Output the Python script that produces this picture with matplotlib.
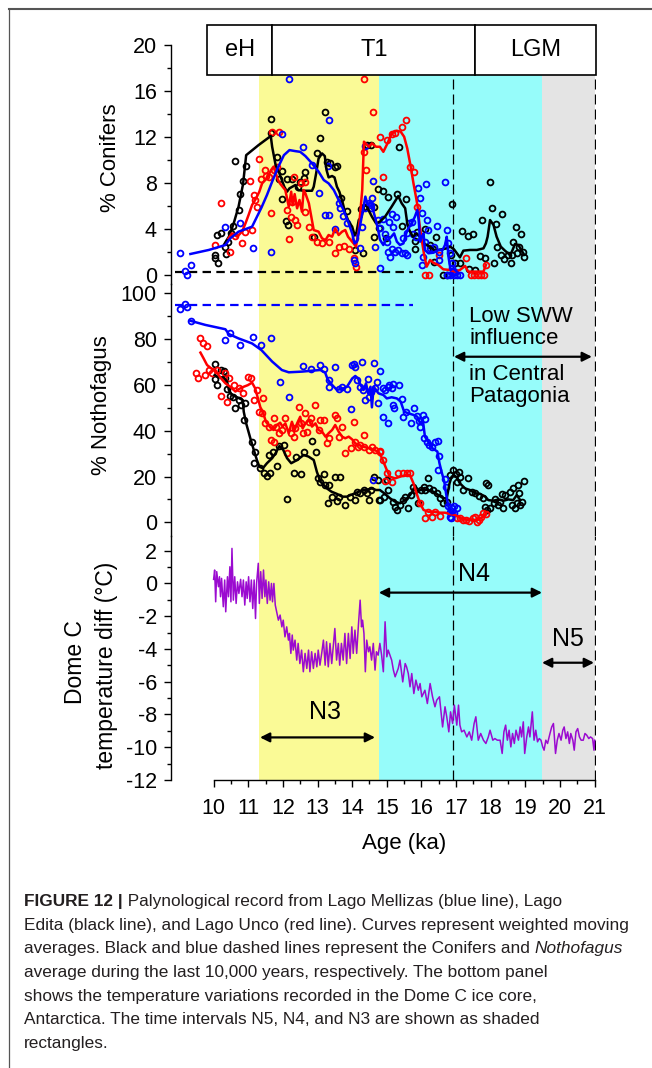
import matplotlib
matplotlib.use("Agg")
import matplotlib.pyplot as plt
from matplotlib.patches import Rectangle
from matplotlib.lines import Line2D
from matplotlib.ticker import FixedLocator

plt.rcParams['font.family'] = ['Liberation Sans', 'DejaVu Sans']
plt.rcParams['axes.unicode_minus'] = False

# ------------------------------------------------------------------ data
# % Conifers -------------------------------------------------------------
EDITA_CON_PTS = [
    (10.05, 1.76), (10.05, 1.47), (10.12, 1.04), (10.10, 3.50), (10.22, 3.70), (10.36, 1.82),
    (10.34, 2.49), (10.42, 2.92), (10.51, 3.64), (10.56, 4.28), (10.63, 9.89), (10.72, 5.67),
    (10.75, 7.03), (10.85, 8.16), (10.94, 9.49), (11.65, 13.54), (11.66, 12.33), (11.84, 10.30),
    (11.97, 9.05), (11.90, 8.39), (12.12, 8.33), (11.96, 6.59), (12.10, 4.71), (12.14, 4.40),
    (12.26, 8.39), (12.44, 7.69), (12.49, 8.13), (12.63, 8.97), (12.62, 8.42), (12.89, 3.35),
    (12.98, 10.59), (13.06, 11.95), (13.21, 14.14), (13.26, 9.86), (13.37, 9.77), (13.49, 9.37),
    (13.57, 9.49), (13.69, 6.71), (13.84, 5.58), (14.07, 2.20), (14.30, 1.91), (14.25, 5.73),
    (14.35, 5.90), (14.43, 11.28), (14.55, 11.28), (14.62, 5.96), (14.75, 7.52), (14.62, 3.35),
    (14.77, 4.08), (14.88, 7.34), (15.04, 6.77), (15.36, 11.16), (15.30, 7.06), (15.55, 6.59),
    (15.43, 4.28), (14.99, 3.21), (15.81, 3.01), (15.81, 2.25), (15.86, 3.79), (16.10, 3.99),
    (16.25, 2.63), (16.34, 2.25), (16.36, 1.15), (16.41, 3.35), (16.63, 0.03), (16.73, 0.03),
    (16.89, 6.19), (16.84, 1.76), (16.97, 1.10), (17.11, 1.10), (17.16, 3.87), (17.34, 3.41),
    (17.48, 3.58), (17.36, 0.52), (17.55, 0.46), (17.69, 1.70), (17.74, 4.80), (17.84, 1.53),
    (17.98, 8.07), (18.03, 5.82), (18.10, 1.04), (18.15, 4.42), (18.19, 2.49), (18.33, 5.29),
    (18.29, 1.76), (18.38, 1.41), (18.49, 1.76), (18.59, 1.10), (18.62, 1.76), (18.65, 2.92),
    (18.72, 4.22), (18.77, 1.91), (18.83, 2.49), (18.87, 3.58), (18.92, 1.99), (18.97, 1.62),
]
EDITA_CON_LINE = [
    (10.31, 2.71), (10.44, 3.35), (10.58, 4.51), (10.72, 5.96), (10.85, 7.92), (10.94, 10.43),
    (11.30, 11.31), (11.65, 12.09), (11.69, 11.16), (11.79, 9.57), (11.90, 8.85), (12.04, 7.69),
    (12.12, 7.26), (12.19, 7.55), (12.36, 7.84), (12.44, 7.40), (12.60, 7.34), (12.84, 7.34),
    (12.89, 7.69), (12.96, 8.85), (13.03, 10.14), (13.13, 10.58), (13.21, 10.35), (13.26, 9.14),
    (13.32, 8.50), (13.42, 8.62), (13.49, 8.50), (13.56, 7.69), (13.63, 7.26), (13.73, 6.25),
    (13.80, 5.38), (13.90, 4.66), (14.00, 4.22), (14.07, 3.50), (14.12, 3.65), (14.19, 4.80),
    (14.27, 5.09), (14.33, 5.96), (14.41, 6.10), (14.48, 5.61), (14.57, 5.09), (14.69, 4.51),
    (14.80, 4.66), (14.95, 5.09), (15.14, 5.96), (15.33, 6.88), (15.43, 6.25), (15.53, 5.82),
    (15.59, 4.51), (15.65, 3.93), (15.75, 3.35), (15.86, 3.64), (15.96, 3.35), (16.06, 2.77),
    (16.25, 2.49), (16.39, 2.14), (16.58, 2.25), (16.73, 2.34), (16.83, 2.49), (16.94, 2.25),
    (17.11, 1.56), (17.21, 2.14), (17.40, 2.20), (17.60, 2.20), (17.79, 2.34), (17.86, 2.77),
    (17.91, 3.35), (17.98, 4.80), (18.08, 4.37), (18.17, 3.35), (18.29, 2.49), (18.41, 2.14),
    (18.56, 1.76), (18.63, 2.20), (18.70, 2.72), (18.80, 2.63), (18.87, 2.25), (18.94, 1.91),
]
UNCO_CON_PTS = [
    (10.21, 6.31), (10.05, 2.63), (10.48, 1.99), (10.61, 3.41), (10.82, 2.77), (10.90, 3.79),
    (11.11, 3.93), (11.04, 8.22), (11.16, 6.97), (11.20, 6.54), (11.25, 5.90), (11.32, 10.07),
    (11.38, 8.33), (11.47, 9.14), (11.51, 8.62), (11.61, 8.50), (11.66, 5.38), (11.69, 12.47),
    (11.73, 9.14), (11.88, 12.47), (11.83, 9.37), (12.17, 3.12), (12.12, 5.67), (12.22, 5.09),
    (12.26, 6.39), (12.31, 8.56), (12.36, 4.80), (12.41, 4.37), (12.51, 7.98), (12.65, 8.12),
    (12.63, 5.52), (12.75, 4.22), (12.84, 3.35), (12.98, 2.92), (13.13, 2.77), (13.32, 2.92),
    (13.51, 1.96), (13.61, 2.49), (13.75, 2.54), (13.90, 2.25), (14.04, 1.47), (14.11, 0.75),
    (14.33, 10.72), (14.41, 9.14), (14.60, 14.14), (14.81, 12.03), (14.35, 17.00), (15.00, 11.74),
    (15.14, 12.26), (15.24, 12.38), (15.45, 12.84), (15.55, 13.48), (14.90, 8.50), (15.67, 9.37),
    (15.79, 8.99), (15.88, 5.90), (16.52, 1.76), (17.29, 1.53), (17.86, 0.89), (16.10, 0.03),
    (16.23, 0.03), (17.42, 0.00), (17.52, 0.00), (17.62, 0.00), (17.72, 0.00), (17.80, 0.00),
]
UNCO_CON_LINE = [
    (10.43, 3.21), (10.53, 3.64), (10.68, 3.35), (10.82, 3.79), (10.92, 4.51), (11.01, 5.24),
    (11.11, 6.10), (11.20, 6.54), (11.32, 7.26), (11.40, 7.98), (11.49, 8.27), (11.59, 8.71),
    (11.66, 9.14), (11.73, 9.43), (11.86, 8.27), (11.93, 7.92), (12.07, 7.40), (12.17, 5.96),
    (12.24, 7.26), (12.28, 6.10), (12.34, 7.05), (12.41, 5.82), (12.48, 6.54), (12.55, 5.52),
    (12.60, 7.40), (12.65, 7.11), (12.75, 6.25), (12.82, 5.09), (12.89, 3.93), (13.03, 3.79),
    (13.13, 3.21), (13.23, 3.06), (13.32, 3.50), (13.42, 3.35), (13.51, 4.08), (13.61, 3.50),
    (13.71, 3.79), (13.80, 3.93), (13.88, 3.35), (14.04, 2.77), (14.11, 2.49), (14.19, 3.93),
    (14.29, 7.40), (14.34, 11.60), (14.48, 11.16), (14.57, 11.46), (14.69, 11.16), (14.80, 11.16),
    (14.90, 10.72), (15.02, 11.46), (15.14, 12.32), (15.29, 12.55), (15.40, 12.47), (15.50, 12.03),
    (15.59, 11.02), (15.69, 9.43), (15.77, 7.98), (15.84, 6.83), (15.89, 5.96), (15.94, 4.51),
    (16.01, 3.06), (16.07, 1.91), (16.15, 0.75), (16.25, 1.33), (16.34, 1.10), (16.49, 0.89),
    (16.63, 0.52), (16.83, 0.46), (16.97, 0.32), (17.11, 0.46), (17.26, 0.81), (17.35, 0.32),
    (17.79, 0.32), (17.86, 0.89),
]
MELL_CON_PTS = [
    (9.04, 1.91), (9.18, 0.40), (9.23, 0.00), (9.36, 0.89), (10.34, 4.22), (10.77, 4.51),
    (11.14, 2.40), (11.67, 2.05), (11.96, 12.30), (12.19, 17.00), (12.57, 11.10), (12.84, 9.57),
    (13.03, 7.17), (13.21, 5.24), (13.32, 5.24), (13.29, 9.49), (13.34, 13.48), (13.49, 3.99),
    (13.61, 6.25), (13.66, 5.81), (13.73, 5.15), (13.85, 4.57), (14.07, 3.21), (14.04, 1.33),
    (14.07, 1.04), (14.24, 2.34), (14.29, 4.22), (14.36, 11.22), (14.38, 5.81), (14.48, 6.31),
    (14.53, 5.81), (14.59, 8.18), (14.57, 6.68), (14.54, 6.10), (14.65, 2.49), (14.75, 4.80),
    (14.81, 0.66), (14.80, 4.08), (14.90, 4.86), (14.95, 3.56), (15.07, 4.66), (15.14, 5.32),
    (15.19, 4.16), (15.26, 5.03), (15.00, 2.92), (15.04, 2.05), (15.09, 1.62), (15.14, 2.25),
    (15.24, 2.05), (15.33, 2.20), (15.43, 1.91), (15.53, 1.91), (15.59, 1.76), (15.48, 3.21),
    (15.57, 3.64), (15.65, 4.51), (15.72, 4.66), (15.77, 3.56), (15.84, 3.35), (15.91, 7.55),
    (15.96, 6.74), (16.13, 7.90), (16.01, 5.38), (16.15, 4.80), (16.18, 3.93), (16.10, 2.92),
    (16.04, 1.62), (16.01, 0.89), (16.25, 2.34), (16.36, 2.49), (16.44, 4.31), (16.52, 2.05),
    (16.52, 1.33), (16.68, 8.13), (16.73, 3.93), (16.78, 2.77), (16.83, 1.91), (16.87, 1.04),
    (16.87, 0.60), (16.73, 0.03), (16.83, 0.03), (16.94, 0.03), (17.04, 0.03), (17.11, 0.03),
    (16.90, 0.32), (16.97, 0.32),
]
MELL_CON_LINE = [
    (9.33, 1.85), (9.86, 2.20), (10.34, 2.63), (10.48, 3.21), (10.72, 3.79), (11.11, 4.22),
    (11.38, 5.87), (11.54, 6.97), (11.69, 8.13), (11.86, 9.37), (12.03, 10.43), (12.19, 10.87),
    (12.36, 10.78), (12.50, 10.72), (12.65, 10.35), (12.84, 9.72), (13.03, 9.00), (13.18, 8.27),
    (13.32, 7.98), (13.47, 7.40), (13.61, 6.54), (13.75, 5.67), (13.90, 4.51), (14.00, 3.64),
    (14.07, 2.77), (14.14, 2.92), (14.24, 4.51), (14.33, 5.96), (14.38, 6.83), (14.45, 6.10),
    (14.53, 6.39), (14.59, 5.81), (14.67, 4.94), (14.75, 3.93), (14.80, 3.10), (14.90, 2.63),
    (15.00, 3.35), (15.09, 3.21), (15.21, 3.64), (15.29, 2.92), (15.38, 2.63), (15.48, 2.77),
    (15.56, 3.64), (15.62, 4.08), (15.72, 4.51), (15.81, 5.09), (15.88, 5.67), (15.92, 4.80),
    (15.96, 2.92), (16.01, 3.35), (16.06, 3.64), (16.10, 2.20), (16.20, 1.91), (16.34, 1.96),
    (16.49, 2.20), (16.61, 2.20), (16.68, 2.63), (16.73, 3.35), (16.78, 1.62), (16.84, 0.46),
    (16.92, 0.60), (17.02, 0.32),
]
CONIFER_HOLOCENE_MEAN = 0.29
CONIFER_MEAN_SPAN = (8.90, 15.77)

# % Nothofagus -----------------------------------------------------------
EDITA_NOT_PTS = [
    (10.05, 69.1), (10.22, 66.5), (10.29, 66.1), (10.03, 62.4), (10.10, 59.9), (10.32, 62.8),
    (10.39, 58.1), (10.46, 55.2), (10.55, 54.9), (10.63, 49.8), (10.72, 53.4), (10.80, 51.2),
    (10.92, 52.3), (10.87, 44.7), (11.11, 35.2), (11.20, 30.6), (11.16, 25.8), (11.35, 23.9),
    (11.45, 21.4), (11.54, 20.2), (11.64, 21.7), (11.61, 29.4), (11.72, 30.9), (11.84, 24.8),
    (11.90, 33.3), (12.03, 33.7), (12.12, 10.2), (12.31, 21.4), (12.51, 20.9), (12.38, 28.7),
    (12.60, 30.5), (12.84, 35.6), (12.96, 30.5), (13.00, 19.2), (13.08, 17.8), (13.18, 20.9),
    (13.23, 16.3), (13.32, 16.3), (13.49, 19.6), (13.66, 19.6), (13.31, 8.6), (13.42, 10.9),
    (13.56, 9.4), (13.61, 11.2), (13.80, 7.6), (13.95, 11.2), (14.07, 9.8), (14.14, 13.4),
    (14.24, 12.7), (14.33, 14.1), (14.43, 12.7), (14.48, 9.8), (14.55, 14.1), (14.62, 19.9),
    (14.75, 18.5), (14.77, 9.8), (14.80, 9.7), (14.92, 11.2), (15.00, 18.5), (15.04, 14.1),
    (15.17, 9.0), (15.24, 6.8), (15.30, 5.4), (15.38, 7.6), (15.46, 9.7), (15.53, 11.2),
    (15.62, 6.1), (15.69, 11.9), (15.77, 15.6), (15.81, 14.1), (15.91, 8.3), (15.98, 14.1),
    (16.06, 15.6), (16.10, 14.1), (16.20, 19.2), (16.23, 14.8), (16.34, 14.1), (16.44, 12.7),
    (16.54, 10.5), (16.63, 8.3), (16.73, 9.0), (16.83, 20.6), (16.92, 22.8), (17.00, 21.1),
    (17.07, 22.1), (17.11, 19.9), (17.04, 17.7), (17.21, 14.1), (17.35, 19.2), (17.45, 13.4),
    (17.55, 12.7), (17.67, 11.5), (17.79, 10.5), (17.86, 17.0), (17.93, 16.3), (17.84, 6.8),
    (17.88, 5.4), (17.98, 6.1), (18.08, 8.3), (18.12, 10.0), (18.22, 7.6), (18.27, 9.0),
    (18.36, 6.1), (18.32, 12.4), (18.41, 11.9), (18.56, 13.4), (18.61, 7.6), (18.65, 14.8),
    (18.70, 6.1), (18.75, 8.3), (18.80, 16.3), (18.83, 12.7), (18.89, 9.0), (18.96, 18.2),
    (18.85, 7.6),
]
EDITA_NOT_LINE = [
    (10.03, 64.3), (10.15, 63.3), (10.29, 63.3), (10.39, 61.4), (10.44, 57.8), (10.53, 55.6),
    (10.68, 54.6), (10.84, 53.4), (10.87, 48.3), (10.94, 43.2), (11.06, 36.7), (11.16, 31.6),
    (11.25, 27.2), (11.32, 24.3), (11.42, 23.6), (11.54, 25.8), (11.69, 28.0), (11.79, 30.2),
    (11.90, 33.3), (12.01, 31.6), (12.12, 28.0), (12.24, 25.8), (12.41, 27.2), (12.60, 29.4),
    (12.74, 28.7), (12.89, 27.2), (12.98, 22.1), (13.08, 17.8), (13.18, 16.3), (13.27, 14.8),
    (13.40, 13.4), (13.56, 12.4), (13.71, 11.2), (13.85, 11.2), (13.95, 11.9), (14.04, 12.4),
    (14.19, 13.4), (14.33, 14.1), (14.48, 14.4), (14.57, 14.8), (14.69, 14.1), (14.80, 14.1),
    (14.95, 12.4), (15.09, 10.5), (15.24, 9.0), (15.38, 8.3), (15.53, 9.7), (15.67, 11.9),
    (15.77, 14.1), (15.91, 13.8), (16.06, 14.4), (16.20, 14.1), (16.34, 13.4), (16.49, 11.9),
    (16.63, 10.5), (16.73, 10.5), (16.81, 17.0), (16.87, 19.9), (16.94, 20.6), (17.02, 19.6),
    (17.11, 17.0), (17.26, 14.8), (17.40, 14.1), (17.55, 12.7), (17.69, 12.4), (17.84, 11.2),
    (17.93, 9.7), (18.08, 9.4), (18.22, 10.0), (18.36, 9.4), (18.51, 10.0), (18.65, 9.7),
    (18.75, 11.9), (18.85, 9.7),
]
UNCO_NOT_PTS = [
    (9.62, 80.3), (9.68, 78.5), (9.81, 76.8), (9.49, 65.4), (9.55, 62.8), (9.74, 64.3),
    (9.86, 66.5), (9.95, 65.4), (10.10, 66.5), (10.34, 65.0), (10.22, 55.2), (10.39, 52.7),
    (10.44, 62.8), (10.59, 59.9), (10.72, 58.5), (10.84, 56.3), (10.99, 63.3), (11.09, 62.8),
    (11.25, 57.8), (11.16, 53.4), (11.42, 54.1), (11.32, 48.3), (11.40, 47.9), (11.49, 43.2),
    (11.59, 41.8), (11.73, 45.4), (11.79, 41.8), (11.67, 35.9), (11.73, 35.2), (11.88, 38.9),
    (11.97, 40.3), (12.07, 45.4), (12.12, 30.2), (12.22, 38.9), (12.31, 37.4), (12.36, 41.0),
    (12.46, 50.5), (12.51, 43.2), (12.57, 38.9), (12.65, 47.6), (12.75, 43.9), (12.70, 39.6),
    (12.82, 45.4), (12.92, 51.2), (13.03, 40.3), (13.08, 44.7), (13.20, 44.7), (13.27, 34.5),
    (13.32, 36.7), (13.49, 46.9), (13.56, 45.4), (13.61, 37.4), (13.71, 41.8), (13.80, 30.2),
    (13.97, 32.3), (14.04, 44.0), (14.07, 35.2), (14.17, 33.0), (14.24, 33.7), (14.33, 38.1),
    (14.33, 33.0), (14.48, 31.6), (14.57, 33.0), (14.67, 31.6), (14.79, 30.5), (14.80, 31.3),
    (14.90, 27.2), (14.95, 18.2), (15.00, 21.4), (15.14, 17.7), (15.33, 21.4), (15.48, 21.4),
    (15.57, 21.4), (15.67, 21.4), (15.96, 8.3), (16.10, 1.7), (16.20, 4.6), (16.30, 2.5),
    (16.39, 4.6), (16.54, 2.9), (17.02, 1.7), (17.11, 1.7), (17.21, 1.0), (17.29, 1.0),
    (17.38, 0.7), (17.48, 1.7), (17.55, 2.5), (17.60, 0.3), (17.67, 1.0), (17.71, 2.5),
    (17.79, 3.9), (17.86, 3.6),
]
UNCO_NOT_LINE = [
    (9.62, 74.1), (9.71, 71.6), (9.81, 68.7), (9.93, 67.2), (10.05, 66.5), (10.19, 63.3),
    (10.34, 60.7), (10.48, 59.2), (10.63, 57.1), (10.72, 58.1), (10.87, 59.2), (10.99, 59.9),
    (11.11, 61.0), (11.20, 58.5), (11.28, 54.1), (11.35, 50.2), (11.42, 48.3), (11.51, 43.9),
    (11.64, 41.4), (11.73, 40.3), (11.83, 42.5), (11.92, 43.5), (11.99, 41.8), (12.07, 43.2),
    (12.17, 38.9), (12.26, 43.9), (12.34, 40.3), (12.41, 43.2), (12.50, 46.1), (12.57, 41.0),
    (12.65, 43.2), (12.75, 44.7), (12.84, 41.8), (12.94, 43.2), (13.03, 40.3), (13.13, 39.6),
    (13.23, 37.4), (13.32, 38.9), (13.42, 40.3), (13.51, 42.5), (13.61, 39.6), (13.71, 37.4),
    (13.80, 36.7), (13.90, 37.4), (14.00, 36.2), (14.09, 34.5), (14.19, 33.7), (14.33, 33.0),
    (14.48, 32.3), (14.62, 31.6), (14.76, 30.9), (14.86, 28.0), (14.96, 24.3), (15.00, 22.8),
    (15.09, 19.9), (15.24, 19.2), (15.38, 19.9), (15.53, 20.6), (15.67, 20.6), (15.77, 17.0),
    (15.86, 12.6), (15.96, 8.3), (16.06, 5.4), (16.20, 4.6), (16.34, 4.6), (16.54, 4.2),
    (16.68, 4.2), (16.83, 3.6), (16.97, 3.2), (17.07, 2.2), (17.21, 1.3), (17.35, 1.0),
    (17.50, 1.0), (17.64, 1.3), (17.79, 2.5), (17.86, 3.6),
]
MELL_NOT_PTS = [
    (9.04, 93.0), (9.16, 95.3), (9.23, 93.8), (9.36, 88.0), (10.32, 79.6), (10.46, 82.5),
    (10.77, 77.4), (11.14, 81.1), (11.38, 77.4), (11.66, 80.3), (11.93, 61.1), (12.19, 54.6),
    (12.57, 68.2), (12.82, 66.8), (13.06, 68.7), (13.19, 66.8), (13.49, 67.6), (13.32, 62.1),
    (13.34, 59.3), (13.61, 58.1), (13.70, 59.3), (13.85, 58.1), (13.97, 49.3), (14.04, 69.1),
    (14.09, 67.6), (14.00, 68.7), (14.29, 70.1), (14.14, 62.1), (14.24, 59.3), (14.32, 57.8),
    (14.46, 62.4), (14.38, 53.4), (14.48, 54.9), (14.54, 56.8), (14.62, 69.4), (14.67, 58.5),
    (14.72, 61.4), (14.75, 52.0), (14.81, 66.2), (14.88, 46.1), (14.59, 18.5), (15.02, 43.2),
    (14.90, 58.7), (14.95, 57.8), (15.02, 59.2), (15.07, 59.9), (15.14, 58.5), (15.19, 60.2),
    (15.35, 59.9), (15.17, 51.2), (15.21, 49.8), (15.43, 53.7), (15.48, 46.1), (15.69, 43.2),
    (15.55, 48.3), (15.79, 49.8), (15.88, 46.4), (15.94, 44.2), (15.96, 41.8), (16.04, 46.9),
    (16.10, 44.9), (16.06, 36.7), (16.15, 35.2), (16.23, 33.7), (16.39, 35.2), (16.49, 35.6),
    (16.30, 33.0), (16.52, 28.9), (16.49, 22.8), (16.68, 18.7), (16.71, 15.5), (16.76, 7.1),
    (16.83, 4.6), (16.87, 6.1), (16.94, 7.1), (17.04, 6.1), (16.81, 2.4), (16.94, 4.2),
    (16.84, 1.7),
]
MELL_NOT_LINE = [
    (9.33, 88.0), (9.76, 86.2), (10.34, 84.3), (10.44, 82.2), (10.72, 80.3), (11.11, 78.1),
    (11.38, 75.2), (11.69, 70.2), (11.97, 66.5), (12.17, 65.5), (12.55, 65.8), (12.84, 66.2),
    (13.08, 66.5), (13.22, 65.4), (13.29, 62.5), (13.42, 60.0), (13.56, 57.8), (13.75, 58.5),
    (13.85, 59.2), (14.00, 62.8), (14.09, 63.9), (14.17, 62.8), (14.24, 60.0), (14.33, 57.8),
    (14.40, 60.7), (14.46, 56.3), (14.53, 59.2), (14.57, 50.2), (14.62, 59.2), (14.69, 57.8),
    (14.76, 56.3), (14.90, 55.6), (15.00, 54.1), (15.14, 54.6), (15.29, 54.1), (15.40, 52.7),
    (15.50, 48.3), (15.62, 47.6), (15.77, 46.9), (15.88, 46.1), (15.96, 43.2), (16.04, 44.7),
    (16.10, 37.4), (16.20, 35.2), (16.32, 32.3), (16.46, 30.9), (16.52, 25.8), (16.58, 22.1),
    (16.66, 17.7), (16.71, 12.6), (16.76, 8.3), (16.81, 4.6), (16.87, 3.9), (16.97, 4.2),
]
NOTHO_HOLOCENE_MEAN = 95.0
NOTHO_MEAN_SPAN = (8.90, 15.77)

# Dome C temperature difference (deg C) ---------------------------------
DOMEC_AGE = [
    10.00, 10.03, 10.06, 10.09, 10.14, 10.17, 10.20, 10.23, 10.28, 10.32, 10.35, 10.40,
    10.43, 10.47, 10.50, 10.53, 10.57, 10.61, 10.65, 10.69, 10.73, 10.78, 10.82, 10.86,
    10.90, 10.94, 10.97, 11.01, 11.05, 11.09, 11.13, 11.17, 11.21, 11.24, 11.29, 11.32,
    11.36, 11.40, 11.44, 11.48, 11.51, 11.55, 11.59, 11.63, 11.67, 11.70, 11.74, 11.78,
    11.82, 11.87, 11.92, 11.97, 12.01, 12.06, 12.11, 12.16, 12.19, 12.23, 12.27, 12.30,
    12.35, 12.40, 12.44, 12.49, 12.54, 12.59, 12.64, 12.69, 12.74, 12.78, 12.83, 12.88,
    12.93, 12.98, 13.02, 13.07, 13.12, 13.17, 13.22, 13.26, 13.31, 13.36, 13.41, 13.45,
    13.50, 13.55, 13.60, 13.64, 13.69, 13.74, 13.79, 13.84, 13.89, 13.94, 13.99, 14.03,
    14.08, 14.13, 14.18, 14.23, 14.27, 14.30, 14.34, 14.38, 14.42, 14.47, 14.51, 14.56,
    14.61, 14.66, 14.70, 14.75, 14.80, 14.85, 14.90, 14.95, 15.00, 15.04, 15.14, 15.19,
    15.24, 15.33, 15.38, 15.46, 15.53, 15.57, 15.62, 15.67, 15.72, 15.78, 15.84, 15.91,
    15.96, 16.01, 16.10, 16.17, 16.25, 16.32, 16.39, 16.44, 16.52, 16.55, 16.61, 16.68,
    16.73, 16.79, 16.84, 16.90, 16.95, 17.02, 17.07, 17.11, 17.16, 17.23, 17.31, 17.38,
    17.45, 17.52, 17.57, 17.64, 17.71, 17.79, 17.86, 17.93, 17.98, 18.06, 18.12, 18.19,
    18.27, 18.33, 18.38, 18.43, 18.48, 18.53, 18.58, 18.63, 18.68, 18.73, 18.80, 18.85,
    18.89, 18.94, 18.98, 19.04, 19.09, 19.13, 19.20, 19.25, 19.30, 19.35, 19.40, 19.45,
    19.50, 19.54, 19.59, 19.64, 19.71, 19.76, 19.81, 19.87, 19.92, 19.97, 20.03, 20.08,
    20.12, 20.17, 20.22, 20.27, 20.31, 20.37, 20.41, 20.46, 20.51, 20.56, 20.61, 20.67,
    20.72, 20.77, 20.83, 20.88, 20.94, 20.98, 21.00,
]
DOMEC_T = [
    0.25, 0.82, -1.12, 0.72, -0.20, 0.41, -0.81, 0.31, -1.42, 0.21, -1.73, 0.41,
    -0.81, 1.02, -1.12, 2.14, -1.02, 0.41, -1.22, 0.10, -0.61, 0.25, -0.81, 0.21,
    -1.32, 0.10, -0.91, 0.41, -1.12, 0.21, -1.53, 0.21, -2.14, 0.00, 1.23, -1.22,
    0.72, -0.91, 0.82, -0.81, 0.21, -1.22, 0.10, -1.02, 0.00, -1.12, 0.00, -1.32,
    -1.73, -2.24, -1.93, -2.65, -2.24, -3.26, -2.65, -3.46, -3.05, -4.27, -3.15, -4.07,
    -3.46, -4.68, -3.66, -4.89, -4.07, -5.39, -4.27, -5.19, -4.07, -5.39, -4.17, -5.19,
    -4.27, -5.09, -4.07, -4.99, -4.27, -3.46, -4.99, -3.56, -5.09, -3.66, -4.89, -3.97,
    -2.75, -4.68, -3.66, -4.99, -3.66, -4.68, -3.05, -4.89, -3.05, -4.58, -2.65, -4.27,
    -2.85, -4.27, -2.54, -1.02, -2.65, -2.24, -3.05, -5.39, -3.46, -4.17, -3.87, -4.68,
    -3.66, -5.29, -4.17, -4.38, -3.66, -4.38, -5.39, -2.34, -4.48, -4.07, -4.68, -5.29,
    -5.70, -5.19, -4.68, -6.01, -4.89, -5.09, -5.50, -6.31, -5.50, -6.72, -5.90, -6.52,
    -6.11, -6.92, -6.52, -7.33, -6.11, -6.92, -7.53, -7.13, -6.92, -7.53, -8.76, -7.53,
    -8.14, -9.06, -7.84, -8.55, -7.43, -8.65, -7.43, -8.65, -9.06, -8.96, -9.37, -9.06,
    -9.57, -8.55, -8.14, -9.57, -9.16, -9.57, -9.77, -9.37, -8.96, -9.57, -9.47, -9.57,
    -9.57, -10.38, -9.06, -8.65, -9.57, -8.96, -9.98, -9.16, -9.77, -8.96, -9.57, -8.76,
    -9.37, -8.45, -10.38, -9.37, -8.76, -9.37, -7.84, -9.57, -8.96, -9.67, -9.47, -9.57,
    -9.98, -10.18, -9.57, -9.77, -9.16, -8.76, -8.55, -10.38, -9.57, -9.16, -9.57, -8.96,
    -8.76, -9.47, -9.06, -9.77, -9.16, -9.57, -10.18, -9.06, -8.86, -9.37, -9.57, -9.57,
    -9.16, -9.26, -9.47, -9.37, -9.47, -10.18, -9.57,
]

# periods / intervals (ka)
STAGES = [("eH", 9.81, 11.70), ("T1", 11.70, 17.55), ("LGM", 17.55, 21.03)]
SHADES = [(11.31, 14.77, "#FAFA96"), (14.77, 19.48, "#96FCFA"), (19.48, 21.00, "#E4E4E4")]
DASHED_AGES = [16.90, 21.00]
N_INTERVALS = [("N3", 11.34, 14.66, -9.4, 13.22, -7.84),
               ("N4", 14.77, 19.48, -0.56, 17.52, 0.57),
               ("N5", 19.48, 20.98, -4.84, 20.24, -3.40)]
SWW_SPAN = (16.94, 20.92)

X_TICKS = list(range(10, 22))

# ------------------------------------------------------------------ layout
W, H = 652, 1068
fig = plt.figure(figsize=(W / 100, H / 100), dpi=100)


def fx(px):
    return px / W


def fy(py):
    return 1 - py / H


X_LIM = (8.7615, 21.05)
AX_L, AX_R = 170.7, 596.4
# (top px, bottom px, ylim)
TOP_AX = (25.0, 284.0, (-0.755, 21.73))
MID_AX = (284.0, 536.0, (-5.98, 104.06))
BOT_AX = (536.0, 780.0, (-12.0, 2.897))
BOX_Y = (17.39, 21.70)

axes = []
for (ptop, pbot, ylim) in (TOP_AX, MID_AX, BOT_AX):
    ax = fig.add_axes([fx(AX_L), fy(pbot), (AX_R - AX_L) / W, (pbot - ptop) / H])
    ax.set_xlim(*X_LIM)
    ax.set_ylim(*ylim)
    ax.patch.set_alpha(0)
    for s in ("top", "right"):
        ax.spines[s].set_visible(False)
    ax.spines["left"].set_linewidth(1.0)
    ax.tick_params(axis="y", which="major", length=5, width=1.0, labelsize=15.5, pad=5)
    ax.tick_params(axis="y", which="minor", length=3, width=1.0)
    axes.append(ax)
ax_top, ax_mid, ax_bot = axes

for ax in (ax_top, ax_mid):
    ax.spines["bottom"].set_visible(False)
    ax.tick_params(axis="x", which="both", bottom=False, labelbottom=False)

ax_top.spines["left"].set_bounds(TOP_AX[2][0], 20)
ax_top.yaxis.set_major_locator(FixedLocator([0, 4, 8, 12, 16, 20]))
ax_top.yaxis.set_minor_locator(FixedLocator([2, 6, 10, 14, 18]))
ax_mid.yaxis.set_major_locator(FixedLocator([0, 20, 40, 60, 80, 100]))
ax_mid.yaxis.set_minor_locator(FixedLocator([10, 30, 50, 70, 90]))
ax_bot.yaxis.set_major_locator(FixedLocator(list(range(-12, 3, 2))))
ax_bot.yaxis.set_minor_locator(FixedLocator(list(range(-11, 2, 2))))
ax_bot.spines["bottom"].set_bounds(10, 21)
ax_bot.spines["bottom"].set_linewidth(1.0)
ax_bot.xaxis.set_major_locator(FixedLocator(X_TICKS))
ax_bot.xaxis.set_minor_locator(FixedLocator([t + 0.5 for t in X_TICKS[:-1]]))
ax_bot.tick_params(axis="x", which="major", length=5, width=1.0, labelsize=15.5, pad=8)
ax_bot.tick_params(axis="x", which="minor", length=3, width=1.0)

# shading & dashed verticals
top_frac = (BOX_Y[0] - TOP_AX[2][0]) / (TOP_AX[2][1] - TOP_AX[2][0])
for ax in axes:
    ymax = top_frac if ax is ax_top else 1.0
    for x0, x1, c in SHADES:
        ax.axvspan(x0, x1, ymin=0, ymax=ymax, color=c, lw=0, zorder=0)
    for xa in DASHED_AGES:
        ax.axvline(xa, ymin=0, ymax=ymax, color="black", lw=0.9, dashes=(8, 4), zorder=1)

# stage box
for name, x0, x1 in STAGES:
    ax_top.add_patch(Rectangle((x0, BOX_Y[0]), x1 - x0, BOX_Y[1] - BOX_Y[0], facecolor="white",
                               edgecolor="black", lw=1.2, clip_on=False, zorder=5))
    ax_top.text((x0 + x1) / 2, sum(BOX_Y) / 2, name, ha="center", va="center",
                fontsize=17, zorder=6)

RED, BLUE, BLACK = "#FF0000", "#0000FF", "#000000"


def draw(ax, pts, line, color):
    xs, ys = zip(*pts)
    ax.plot(xs, ys, "o", mfc="none", mec=color, ms=4.2, mew=1.3, zorder=3, clip_on=False)
    lx, ly = zip(*line)
    ax.plot(lx, ly, "-", color=color, lw=1.8, zorder=4)


ax_top.plot(CONIFER_MEAN_SPAN, [CONIFER_HOLOCENE_MEAN] * 2, color="black", lw=1.6,
            dashes=(3.8, 2.4), zorder=2)
draw(ax_top, EDITA_CON_PTS, EDITA_CON_LINE, BLACK)
draw(ax_top, UNCO_CON_PTS, UNCO_CON_LINE, RED)
draw(ax_top, MELL_CON_PTS, MELL_CON_LINE, BLUE)

ax_mid.plot(NOTHO_MEAN_SPAN, [NOTHO_HOLOCENE_MEAN] * 2, color=BLUE, lw=1.6,
            dashes=(3.8, 2.4), zorder=2)
draw(ax_mid, EDITA_NOT_PTS, EDITA_NOT_LINE, BLACK)
draw(ax_mid, UNCO_NOT_PTS, UNCO_NOT_LINE, RED)
draw(ax_mid, MELL_NOT_PTS, MELL_NOT_LINE, BLUE)

ax_bot.plot(DOMEC_AGE, DOMEC_T, color="#9B0BD0", lw=1.1, zorder=3)

arrow_kw = dict(arrowstyle="<|-|>", color="black", lw=1.6, mutation_scale=14,
                shrinkA=0, shrinkB=0)
for name, x0, x1, ya, xt, yt in N_INTERVALS:
    ax_bot.annotate("", xy=(x0, ya), xytext=(x1, ya), arrowprops=arrow_kw, zorder=5)
    ax_bot.text(xt, yt, name, ha="center", va="center", fontsize=18, zorder=5)

ax_mid.annotate("", xy=(SWW_SPAN[0], 72.3), xytext=(SWW_SPAN[1], 72.3),
                arrowprops=arrow_kw, zorder=5)
ax_mid.text(17.38, 85.1, "Low SWW\ninfluence", ha="left", va="center", fontsize=16,
            linespacing=1.1, zorder=5)
ax_mid.text(17.38, 59.7, "in Central\nPatagonia", ha="left", va="center", fontsize=16,
            linespacing=1.1, zorder=5)

# axis labels
fig.text(fx(111), fy(158), "% Conifers", rotation=90, ha="center", va="center", fontsize=16)
fig.text(fx(101), fy(405), "% Nothofagus", rotation=90, ha="center", va="center", fontsize=16)
fig.text(fx(75), fy(662), "Dome C", rotation=90, ha="center", va="center", fontsize=16.5)
fig.text(fx(106), fy(665), "temperature diff (°C)", rotation=90, ha="center", va="center",
         fontsize=16.5)
fig.text(fx(404.6), fy(843), "Age (ka)", ha="center", va="center", fontsize=16)

# frame lines
fig.add_artist(Line2D([fx(9), 1.0], [fy(8.5), fy(8.5)], color="#555555", lw=1.5))
fig.add_artist(Line2D([fx(9), fx(9)], [fy(8.5), 0.0], color="#555555", lw=0.9))

# caption
CAP_SIZE = 12.4
CAP_COLOR = "#231F20"
CAP_X = 24
CAP_Y0 = 906
CAP_DY = 23.7
renderer = fig.canvas.get_renderer()


def cap_line(i, parts):
    x = fx(CAP_X)
    for text, kw in parts:
        t = fig.text(x, fy(CAP_Y0 + i * CAP_DY), text, ha="left", va="baseline",
                     fontsize=CAP_SIZE, color=CAP_COLOR, **kw)
        bb = t.get_window_extent(renderer)
        x = bb.x1 / W


cap_line(0, [("FIGURE 12 |", dict(fontweight="bold")),
             (" Palynological record from Lago Mellizas (blue line), Lago", {})])
cap_line(1, [("Edita (black line), and Lago Unco (red line). Curves represent weighted moving", {})])
cap_line(2, [("averages. Black and blue dashed lines represent the Conifers and ", {}),
             ("Nothofagus", dict(style="italic"))])
cap_line(3, [("average during the last 10,000 years, respectively. The bottom panel", {})])
cap_line(4, [("shows the temperature variations recorded in the Dome C ice core,", {})])
cap_line(5, [("Antarctica. The time intervals N5, N4, and N3 are shown as shaded", {})])
cap_line(6, [("rectangles.", {})])

fig.savefig("out.png", dpi=100)
